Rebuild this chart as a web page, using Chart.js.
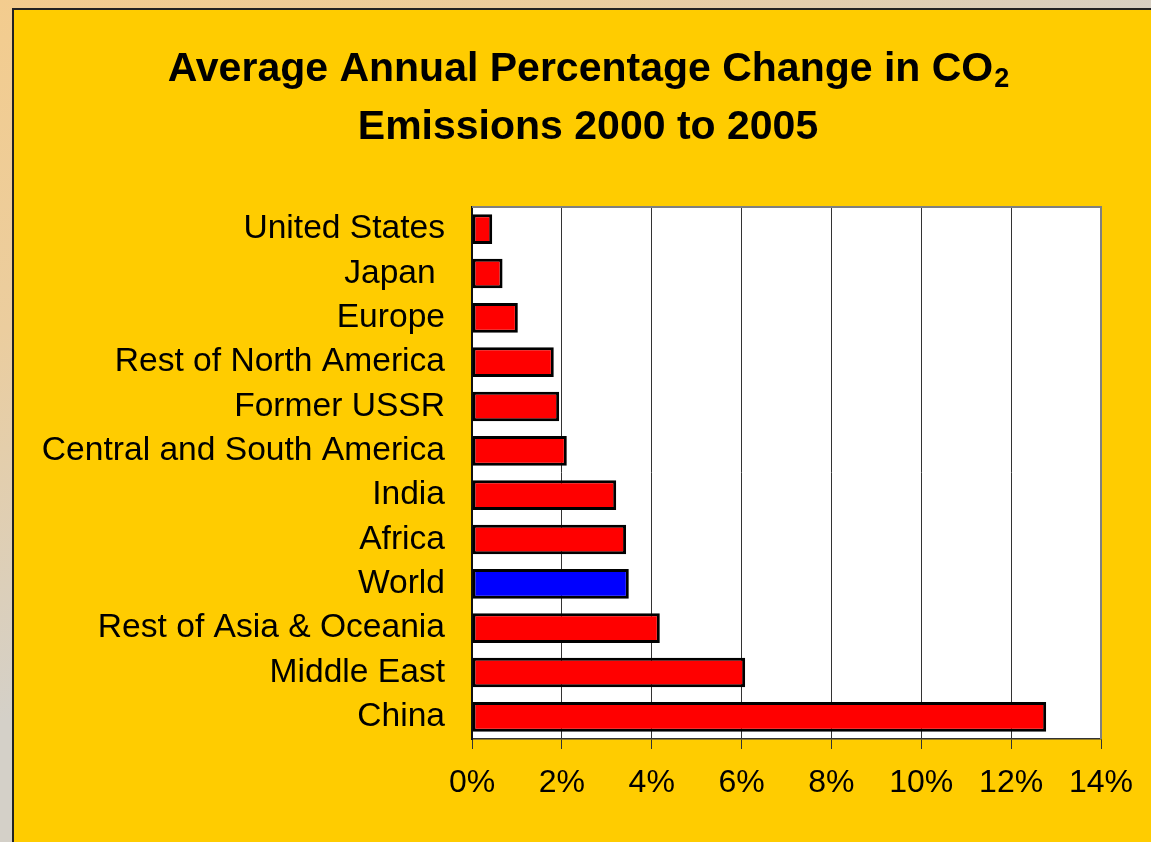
<!DOCTYPE html>
<html>
<head>
<meta charset="utf-8">
<title>Average Annual Percentage Change in CO2 Emissions 2000 to 2005</title>
<script src="https://cdn.jsdelivr.net/npm/chart.js@4.4.1/dist/chart.umd.min.js"></script>
<style>
  html, body { margin: 0; padding: 0; }
  body {
    width: 1151px; height: 842px; overflow: hidden; position: relative;
    background: linear-gradient(150deg, #F3CC8E 0%, #EBCD9E 22%, #D4D0C8 48%, #D4D0C8 100%);
  }
  #slide {
    position: absolute; left: 12px; top: 8px; right: 0; bottom: 0;
    background: #FFCC00;
    border-top: 2px solid #222;
    border-left: 2px solid #222;
  }
  #wrap { position: absolute; left: 0; top: 0; width: 1151px; height: 842px; }
</style>
</head>
<body>
<div id="slide"></div>
<div id="wrap"><canvas id="chart" width="1151" height="842"></canvas></div>
<script>
// Regions, top to bottom
const regions = [
  'United States', 'Japan ', 'Europe', 'Rest of North America', 'Former USSR',
  'Central and South America', 'India', 'Africa', 'World',
  'Rest of Asia & Oceania', 'Middle East', 'China'
];
// Average annual change in CO2 emissions, 2000-2005 (percent)
const annualChange = [0.45, 0.68, 1.02, 1.82, 1.94, 2.11, 3.21, 3.43, 3.49, 4.18, 6.08, 12.78];
// Percent axis ticks
const xTicks = [0, 2, 4, 6, 8, 10, 12, 14];
const highlighted = 'World';

const FONT = '"Liberation Sans", Arial, sans-serif';

// White plot area, gray frame on top/right, and the two-line title with a subscript
const framePlugin = {
  id: 'frame',
  beforeDraw(chart) {
    const { ctx, chartArea: a } = chart;
    ctx.save();
    ctx.fillStyle = '#FFFFFF';
    ctx.fillRect(a.left, a.top, a.right - a.left, a.bottom - a.top);
    ctx.restore();
  },
  afterDatasetsDraw(chart) {
    const { ctx, chartArea: a } = chart;
    ctx.save();
    ctx.strokeStyle = '#808080';
    ctx.lineWidth = 2;
    ctx.beginPath();
    ctx.moveTo(a.left, a.top);
    ctx.lineTo(a.right, a.top);
    ctx.lineTo(a.right, a.bottom);
    ctx.stroke();
    ctx.restore();
  },
  afterDraw(chart) {
    const { ctx } = chart;
    const cx = 588;
    ctx.save();
    ctx.fillStyle = '#000';
    ctx.textBaseline = 'alphabetic';
    const main = 'Average Annual Percentage Change in CO';
    const sub = '2';
    ctx.font = 'bold 41px ' + FONT;
    const wMain = ctx.measureText(main).width;
    ctx.font = 'bold 27px ' + FONT;
    const wSub = ctx.measureText(sub).width;
    const x0 = cx - (wMain + wSub) / 2;
    ctx.font = 'bold 41px ' + FONT;
    ctx.textAlign = 'left';
    ctx.fillText(main, x0, 81);
    ctx.font = 'bold 27px ' + FONT;
    ctx.fillText(sub, x0 + wMain + 1, 87);
    ctx.font = 'bold 41px ' + FONT;
    ctx.textAlign = 'center';
    ctx.fillText('Emissions 2000 to 2005', cx, 139);
    ctx.restore();
  }
};

new Chart(document.getElementById('chart'), {
  type: 'bar',
  data: {
    labels: regions,
    datasets: [{
      data: annualChange,
      backgroundColor: regions.map(r => r === highlighted ? '#0000FF' : '#FF0000'),
      borderColor: '#000000',
      borderWidth: 3,
      borderSkipped: false,
      barPercentage: 0.67,
      categoryPercentage: 1.0
    }]
  },
  options: {
    indexAxis: 'y',
    responsive: false,
    animation: false,
    devicePixelRatio: 1,
    layout: { padding: { top: 207, right: 50, left: 0, bottom: 0 } },
    plugins: {
      legend: { display: false },
      title: { display: false },
      tooltip: { enabled: false }
    },
    scales: {
      x: {
        min: 0,
        max: 14,
        afterFit(scale) { scale.height = 103; },
        afterBuildTicks(scale) { scale.ticks = xTicks.map(v => ({ value: v })); },
        grid: {
          color: '#333333',
          lineWidth: 1,
          drawTicks: true,
          tickLength: 10,
          tickColor: '#333333'
        },
        border: { color: '#333333', width: 1.5 },
        ticks: {
          color: '#000',
          font: { family: FONT, size: 32 },
          padding: 15,
          maxRotation: 0,
          callback: v => v + '%'
        }
      },
      y: {
        afterFit(scale) { scale.width = 472; },
        grid: { display: false, drawTicks: false },
        border: { color: '#111111', width: 2 },
        ticks: {
          color: '#000',
          font: { family: FONT, size: 33.6 },
          padding: 27,
          autoSkip: false
        }
      }
    }
  },
  plugins: [framePlugin]
});
</script>
</body>
</html>
